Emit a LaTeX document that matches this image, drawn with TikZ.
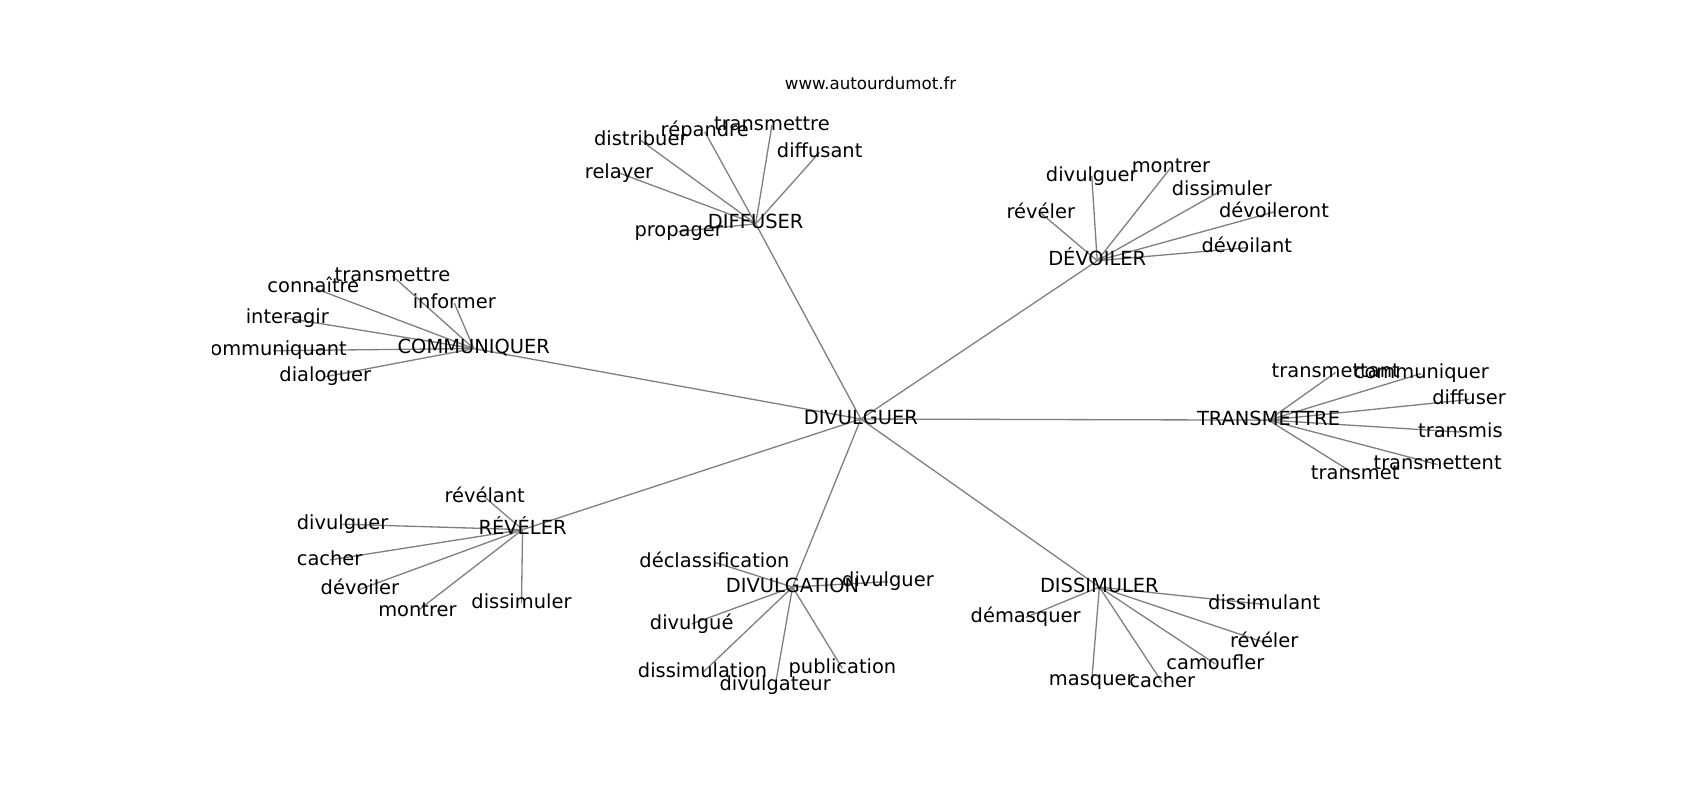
\documentclass[tikz,border=0pt]{standalone}
\usepackage{fontspec}
\setmainfont{DejaVu Sans}
\usetikzlibrary{backgrounds}
\tikzset{
  lbl/.style={inner sep=0pt, text height=10.64pt, text depth=3.3pt, font=\fontsize{14}{16}\selectfont},
  ttl/.style={inner sep=0pt, font=\fontsize{12}{14}\selectfont},
  edge/.style={draw=black!50, line width=0.95pt}
}
\begin{document}
\begin{tikzpicture}[x=0.7809pt,y=-0.7809pt]
\useasboundingbox (0,0) rectangle (1568,738);
\node[ttl] (title) at (803,77) {www.autourdumot.fr};
\begin{scope}[shift={(0,1.5)}]
\clip (195.9,87) rectangle (1410.7,655);
% hubs
\node[lbl] (c) at (794,385) {DIVULGUER};
\node[lbl] (dif) at (697,205) {DIFFUSER};
\node[lbl] (dev) at (1012,239) {DÉVOILER};
\node[lbl] (com) at (437,320) {COMMUNIQUER};
\node[lbl] (tra) at (1170,386) {TRANSMETTRE};
\node[lbl] (rev) at (482,487) {RÉVÉLER};
\node[lbl] (dvg) at (731,540) {DIVULGATION};
\node[lbl] (dis) at (1014,540) {DISSIMULER};
% diffuser leaves
\node[lbl] (dif1) at (591,128) {distribuer};
\node[lbl] (dif2) at (650,120) {répandre};
\node[lbl] (dif3) at (712,114) {transmettre};
\node[lbl] (dif4) at (756,139) {diffusant};
\node[lbl] (dif5) at (571,158) {relayer};
\node[lbl] (dif6) at (626,212) {propager};
% devoiler leaves
\node[lbl] (dev1) at (1007,161) {divulguer};
\node[lbl] (dev2) at (1080,153) {montrer};
\node[lbl] (dev3) at (1127,174) {dissimuler};
\node[lbl] (dev4) at (1175,194) {dévoileront};
\node[lbl] (dev5) at (960,195) {révéler};
\node[lbl] (dev6) at (1150,227) {dévoilant};
% communiquer leaves
\node[lbl] (com1) at (362,253) {transmettre};
\node[lbl] (com2) at (289,264) {connaître};
\node[lbl] (com3) at (419,278) {informer};
\node[lbl] (com4) at (265,292) {interagir};
\node[lbl] (com5) at (252,322) {communiquant};
\node[lbl] (com6) at (300,346) {dialoguer};
% transmettre leaves
\node[lbl] (tra1) at (1232,342) {transmettant};
\node[lbl] (tra2) at (1311,343) {communiquer};
\node[lbl] (tra3) at (1355,367) {diffuser};
\node[lbl] (tra4) at (1347,397) {transmis};
\node[lbl] (tra5) at (1326,427) {transmettent};
\node[lbl] (tra6) at (1250,436) {transmet};
% reveler leaves
\node[lbl] (rev1) at (447,457) {révélant};
\node[lbl] (rev2) at (316,482) {divulguer};
\node[lbl] (rev3) at (304,515) {cacher};
\node[lbl] (rev4) at (332,542) {dévoiler};
\node[lbl] (rev5) at (385,562) {montrer};
\node[lbl] (rev6) at (481,555) {dissimuler};
% divulgation leaves
\node[lbl] (dvg1) at (659,517) {déclassification};
\node[lbl] (dvg2) at (819,535) {divulguer};
\node[lbl] (dvg3) at (638,574) {divulgué};
\node[lbl] (dvg4) at (648,619) {dissimulation};
\node[lbl] (dvg5) at (715,631) {divulgateur};
\node[lbl] (dvg6) at (777,615) {publication};
% dissimuler leaves
\node[lbl] (dis1) at (1166,556) {dissimulant};
\node[lbl] (dis2) at (946,568) {démasquer};
\node[lbl] (dis3) at (1166,591) {révéler};
\node[lbl] (dis4) at (1121,611) {camoufler};
\node[lbl] (dis5) at (1007,626) {masquer};
\node[lbl] (dis6) at (1072,628) {cacher};
\begin{scope}[on background layer]
\foreach \h in {dif,dev,com,tra,rev,dvg,dis}{
  \draw[edge] (c.center) -- (\h.center);
  \foreach \i in {1,...,6}{
    \draw[edge] (\h.center) -- (\h\i.center);
  }
}
\end{scope}
\end{scope}
\end{tikzpicture}
\end{document}
